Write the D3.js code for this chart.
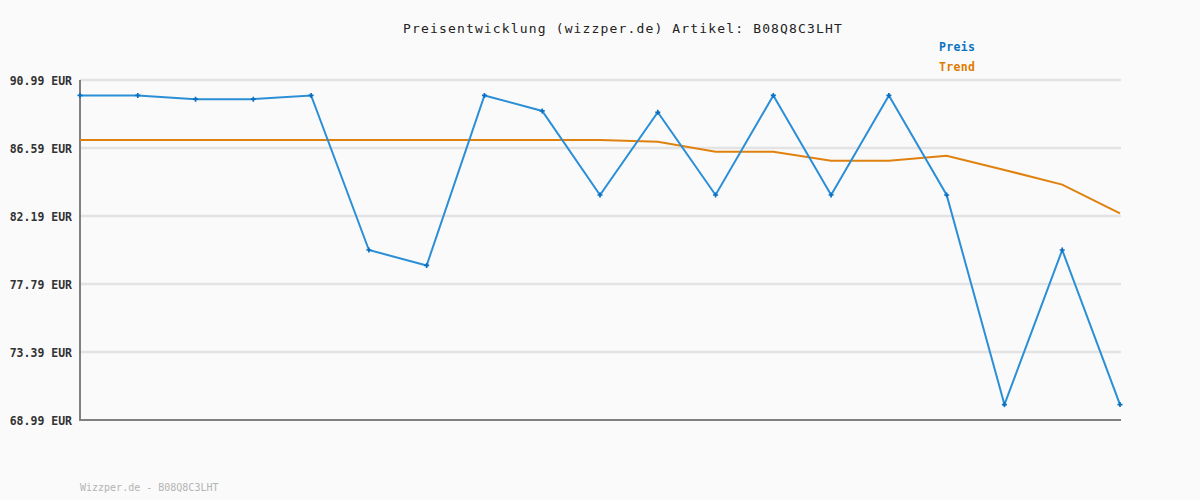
<!DOCTYPE html>
<html><head><meta charset="utf-8">
<script src="https://cdn.jsdelivr.net/npm/d3@7/dist/d3.min.js"></script>
<style>html,body{margin:0;padding:0;background:#fafafa;}</style>
</head><body><svg id="c" width="1200" height="500"></svg>
<script>
const titleText = "Preisentwicklung (wizzper.de) Artikel: B08Q8C3LHT";
const footerText = "Wizzper.de - B08Q8C3LHT";
const seriesNames = ["Preis", "Trend"];
const preis = [89.99, 89.99, 89.75, 89.75, 89.99, 79.99, 78.99, 89.99, 88.99, 83.55, 88.9, 83.55, 89.99, 83.55, 89.99, 83.55, 69.99, 79.99, 69.99];
const trend = [87.11, 87.11, 87.11, 87.11, 87.11, 87.11, 87.11, 87.11, 87.11, 87.11, 87.0, 86.35, 86.35, 85.77, 85.77, 86.09, 85.17, 84.22, 82.36];
const yTicks = [68.99, 73.39, 77.79, 82.19, 86.59, 90.99];
const yTickLabels = ["68.99 EUR", "73.39 EUR", "77.79 EUR", "82.19 EUR", "86.59 EUR", "90.99 EUR"];

const svg = d3.select("#c");
const M = {l: 80, r: 1121, t: 80, b: 420};
const x = d3.scaleLinear().domain([0, preis.length - 1]).range([M.l, M.r - 1]);
const y = d3.scaleLinear().domain([68.99, 90.99]).range([M.b, M.t]);
const font = "'DejaVu Sans Mono', monospace";

svg.append("rect").attr("width", 1200).attr("height", 500).attr("fill", "#fafafa");

// grid
svg.append("g").selectAll("line").data(yTicks.slice(1)).join("line")
  .attr("x1", M.l).attr("x2", M.r).attr("y1", d => y(d)).attr("y2", d => y(d))
  .attr("stroke", "#e3e3e3").attr("stroke-width", 2.5);

// y labels
const yAxis = d3.axisLeft(y).tickValues(yTicks).tickSize(0).tickPadding(8)
  .tickFormat((d, i) => yTickLabels[i]);
const ga = svg.append("g").attr("transform", `translate(${M.l},0)`).call(yAxis);
ga.select(".domain").remove();
ga.selectAll("text").attr("font-family", font).attr("font-size", 11.5).attr("font-weight", "bold")
  .attr("fill", "#333").attr("dy", "0.35em");

// axes lines
svg.append("line").attr("x1", M.l).attr("x2", M.l).attr("y1", M.t).attr("y2", M.b)
  .attr("stroke", "#808080").attr("stroke-width", 2);
svg.append("line").attr("x1", M.l - 1).attr("x2", M.r).attr("y1", M.b).attr("y2", M.b)
  .attr("stroke", "#808080").attr("stroke-width", 2);

const line = d3.line().x((d, i) => x(i)).y(d => y(d));
svg.append("path").datum(trend).attr("d", line).attr("fill", "none")
  .attr("stroke", "#e0810f").attr("stroke-width", 2);
svg.append("path").datum(preis).attr("d", line).attr("fill", "none")
  .attr("stroke", "#2a8fd6").attr("stroke-width", 2);
svg.append("g").selectAll("path").data(preis).join("path")
  .attr("d", d3.symbol(d3.symbolCross, 14))
  .attr("transform", (d, i) => `translate(${x(i)},${y(d)})`)
  .attr("fill", "#0a6fc0");

// title
svg.append("text").attr("x", 623).attr("y", 33).attr("text-anchor", "middle")
  .attr("font-family", font).attr("font-size", 13).style("letter-spacing", "1.15px")
  .attr("fill", "#222").text(titleText);

// legend
const legColors = ["#0a72c2", "#df7a00"];
svg.append("g").selectAll("text").data(seriesNames).join("text")
  .attr("x", 939).attr("y", (d, i) => 51 + i * 20)
  .attr("font-family", font).attr("font-size", 11.5).attr("font-weight", "bold")
  .style("letter-spacing", "0.3px")
  .attr("fill", (d, i) => legColors[i]).text(d => d);

// footer
svg.append("text").attr("x", 80).attr("y", 491).attr("font-family", font)
  .attr("font-size", 10).attr("fill", "#b4b4b4").text(footerText);
</script></body></html>
